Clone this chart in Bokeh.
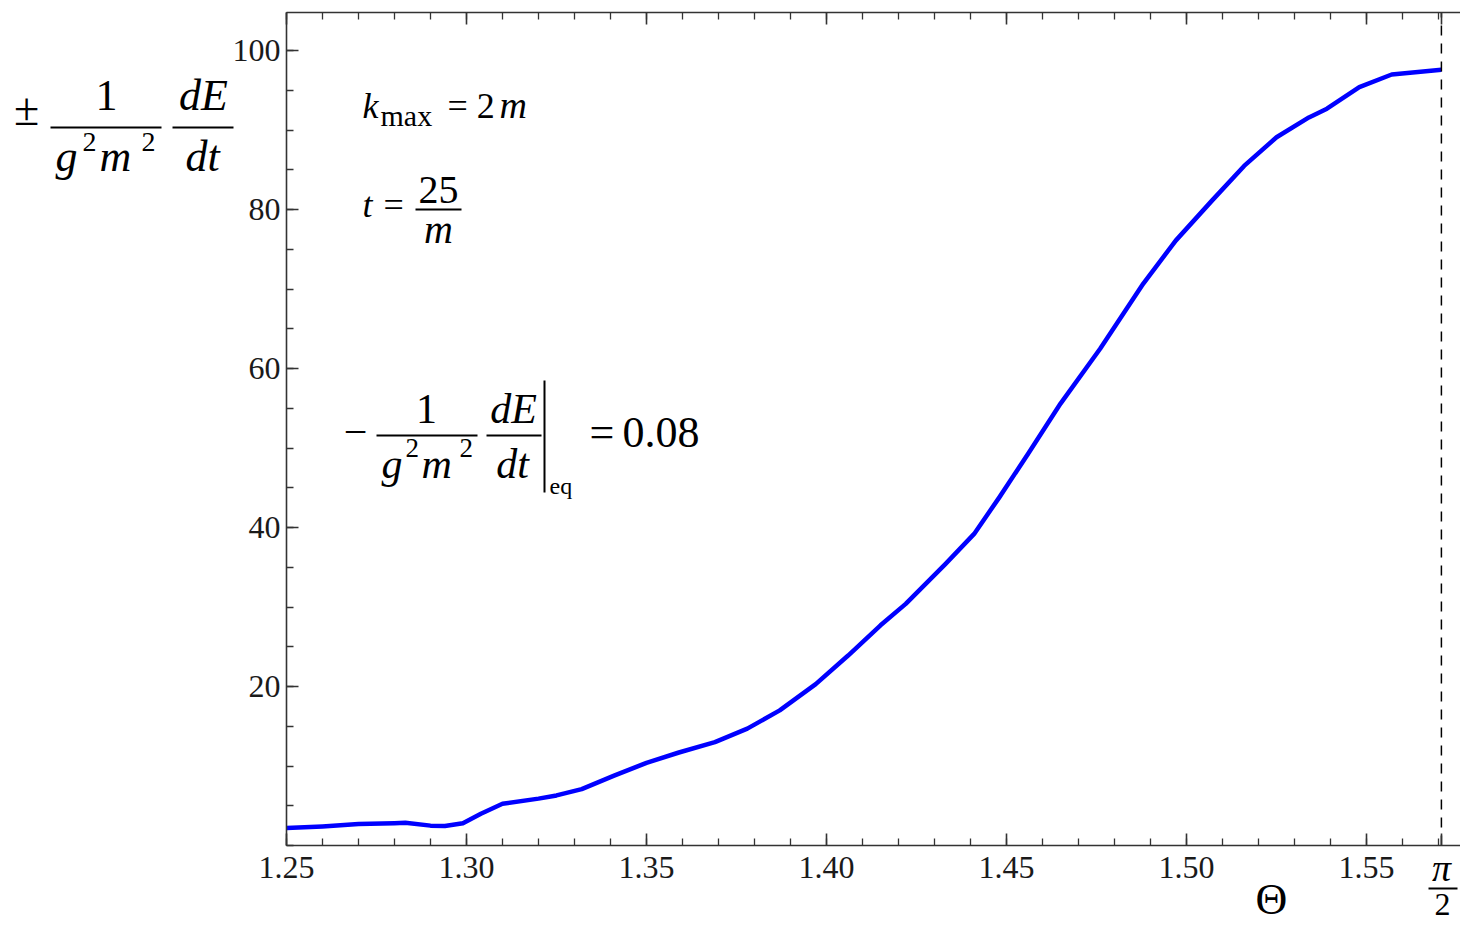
import numpy as np
from bokeh.plotting import figure
from bokeh.models import FixedTicker, LinearAxis, Label
from bokeh.embed import file_html
from bokeh.resources import INLINE

# ---- data ----
theta = [1.250, 1.260, 1.270, 1.280, 1.283, 1.290, 1.294, 1.299, 1.304, 1.310,
         1.320, 1.325, 1.332, 1.341, 1.350, 1.359, 1.369, 1.378, 1.387, 1.397,
         1.406, 1.415, 1.422, 1.433, 1.441, 1.448, 1.456, 1.465, 1.476, 1.488,
         1.497, 1.507, 1.516, 1.525, 1.534, 1.539, 1.548, 1.557, 1.5708]
rate = [2.2, 2.4, 2.7, 2.8, 2.85, 2.5, 2.45, 2.8, 4.0, 5.25,
        5.9, 6.3, 7.1, 8.8, 10.4, 11.7, 13.0, 14.7, 17.0, 20.3,
        23.9, 27.7, 30.4, 35.4, 39.2, 43.8, 49.3, 55.6, 62.5, 70.7,
        76.1, 81.1, 85.5, 89.1, 91.6, 92.7, 95.4, 97.0, 97.6]

x_major = [1.25, 1.30, 1.35, 1.40, 1.45, 1.50, 1.55, np.pi / 2]
x_major_labels = ["1.25", "1.30", "1.35", "1.40", "1.45", "1.50", "1.55", ""]
x_minor = [1.25, 1.26, 1.27, 1.28, 1.29, 1.30, 1.31, 1.32, 1.33, 1.34, 1.35,
           1.36, 1.37, 1.38, 1.39, 1.40, 1.41, 1.42, 1.43, 1.44, 1.45, 1.46,
           1.47, 1.48, 1.49, 1.50, 1.51, 1.52, 1.53, 1.54, 1.55, 1.56, 1.57]
y_major = [20, 40, 60, 80, 100]
y_minor = [0, 5, 10, 15, 20, 25, 30, 35, 40, 45, 50, 55, 60, 65, 70, 75, 80,
           85, 90, 95, 100]

# plotting box (data) and where it sits on the 1460x925 canvas
XA, XB = 1.25, 1.5761
YA, YB = 0.0, 104.8
FL, FR, FT, FB = 286, 1460, 12, 845
W, H = 1460, 925


def X(px):
    return XA + (px - FL) * (XB - XA) / (FR - FL)


def Y(py):
    return YA + (FB - py) * (YB - YA) / (FB - FT)


SERIF = "Liberation Serif"
AX = "#333333"

p = figure(width=W, height=H, x_range=(X(0), X(W)), y_range=(Y(H), Y(0)),
           output_backend="svg", toolbar_location=None,
           x_axis_type=None, y_axis_type=None,
           min_border=0, min_border_left=0, min_border_right=0,
           min_border_top=0, min_border_bottom=0)
p.outline_line_color = None
p.xgrid.visible = False
p.ygrid.visible = False
p.background_fill_color = "white"
p.border_fill_color = "white"


def style_axis(ax, ticks, minor):
    ax.ticker = FixedTicker(ticks=ticks, minor_ticks=minor)
    ax.major_tick_in = 12
    ax.major_tick_out = 0
    ax.minor_tick_in = 7
    ax.minor_tick_out = 0
    ax.axis_line_color = AX
    ax.axis_line_width = 1.6
    ax.major_tick_line_color = AX
    ax.major_tick_line_width = 1.6
    ax.minor_tick_line_color = AX
    ax.minor_tick_line_width = 1.3
    ax.major_label_text_font = SERIF
    ax.major_label_text_color = "#1a1a1a"
    ax.major_label_text_font_size = "32px"


xb = LinearAxis(fixed_location=YA, bounds=(XA, XB))
style_axis(xb, x_major, x_minor)
xb.major_label_overrides = {v: s for v, s in zip(x_major, x_major_labels)}
xb.major_label_standoff = 11
p.add_layout(xb, "below")

xt = LinearAxis(fixed_location=YB, bounds=(XA, XB))
style_axis(xt, x_major, x_minor)
xt.major_label_text_color = None
p.add_layout(xt, "above")

yl = LinearAxis(fixed_location=XA, bounds=(YA, YB))
style_axis(yl, y_major, y_minor)
yl.major_label_standoff = 6
p.add_layout(yl, "left")

# curve
p.line(theta, rate, line_color="#0000ff", line_width=4.5, line_join="round")

# dashed line at pi/2 spanning the plotting box
p.segment(x0=[np.pi / 2], y0=[YA], x1=[np.pi / 2], y1=[YB],
          line_color="black", line_width=1.5, line_dash="10 8")


# ---- math-like texts placed by canvas pixels ----
def txt(s, px, py, size, italic=False, align="left"):
    # py is the alphabetic baseline in canvas pixels
    p.add_layout(Label(x=X(px), y=Y(py - 0.35 * size), text=s, text_font=SERIF,
                       text_font_size=f"{size}px",
                       text_font_style="italic" if italic else "normal",
                       text_align=align, text_baseline="alphabetic",
                       text_color="black"))


def hbar(x1, x2, py, th=2.0):
    p.quad(left=[X(x1)], right=[X(x2)], bottom=[Y(py + th / 2)],
           top=[Y(py - th / 2)], fill_color="black", line_color=None)


def vbar(px, y1, y2, th=2.0):
    p.quad(left=[X(px - th / 2)], right=[X(px + th / 2)], bottom=[Y(y2)],
           top=[Y(y1)], fill_color="black", line_color=None)


# y-axis label: ± 1/(g^2 m^2) dE/dt
txt("±", 26, 125, 46, align="center")
txt("1", 106, 110, 44, align="center")
hbar(50, 161, 127)
txt("g", 55, 171, 44, italic=True)
txt("2", 82, 151, 28)
txt("m", 99, 171, 44, italic=True)
txt("2", 141, 151, 28)
txt("dE", 203, 110, 44, italic=True, align="center")
hbar(172, 233, 127)
txt("dt", 202, 171, 44, italic=True, align="center")

# k_max = 2m
txt("k", 362, 118, 36, italic=True)
txt("max", 380, 125, 30)
txt("= 2", 447, 118, 36)
txt("m", 499, 118, 38, italic=True)

# t = 25/m
txt("t", 362, 217, 36, italic=True)
txt("=", 383, 217, 36)
txt("25", 438, 203, 40, align="center")
hbar(415, 461, 209)
txt("m", 438, 243, 40, italic=True, align="center")

# - 1/(g^2 m^2) dE/dt |eq = 0.08
txt("−", 355, 446, 42, align="center")
txt("1", 426, 423, 42, align="center")
hbar(376, 477, 435)
txt("g", 381, 478, 42, italic=True)
txt("2", 405, 457, 27)
txt("m", 421, 478, 42, italic=True)
txt("2", 459, 457, 27)
txt("dE", 513, 423, 42, italic=True, align="center")
hbar(486, 541, 435)
txt("dt", 512, 478, 42, italic=True, align="center")
vbar(544, 380, 492)
txt("eq", 549, 494, 24)
txt("=", 589, 447, 44)
txt("0.08", 622, 447, 44)

# Θ axis name and π/2 tick label
txt("Θ", 1271, 914, 44, align="center")
txt("π", 1441, 881, 38, italic=True, align="center")
hbar(1428, 1457, 888)
txt("2", 1442, 915, 32, align="center")

open("out.html", "w").write(file_html(p, INLINE))
